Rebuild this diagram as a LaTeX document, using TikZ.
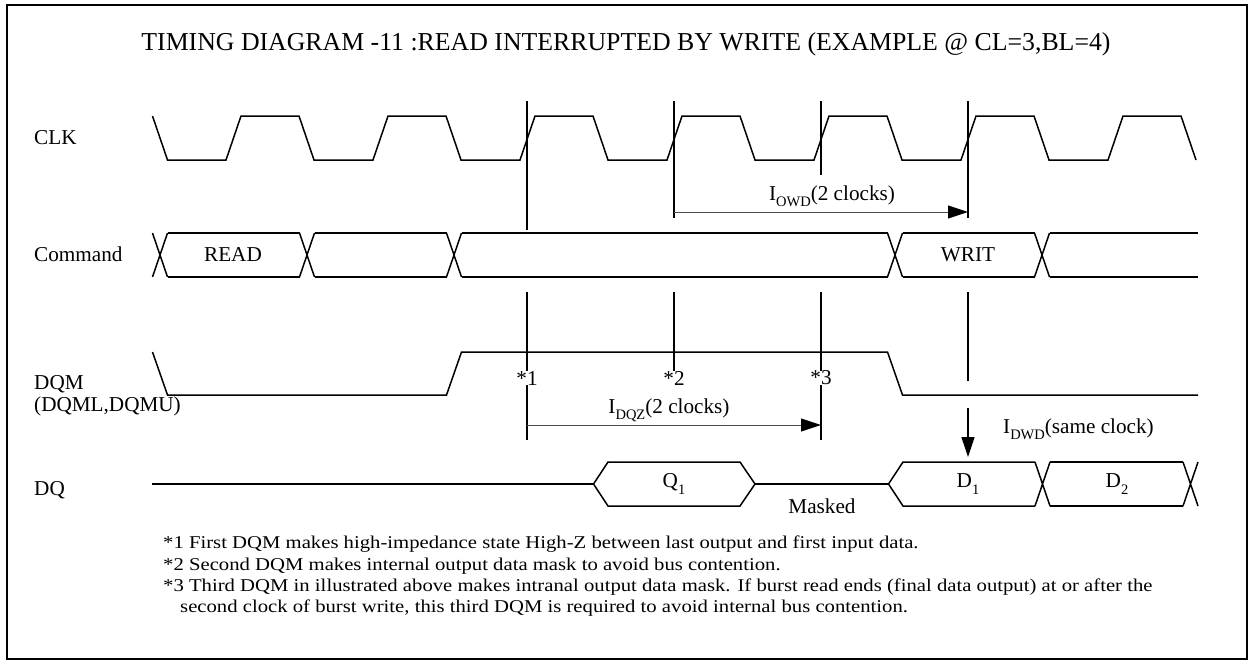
\documentclass[tikz,border=0pt]{standalone}
\usepackage{fontspec}
\setmainfont{Liberation Serif}
\newfontfamily\notefont[FakeStretch=1.15]{Liberation Serif}
\usetikzlibrary{arrows.meta}
\newcommand\subtxt[1]{\raisebox{-0.32em}{\fontsize{14.5}{14.5}\selectfont #1}}
\begin{document}
\begin{tikzpicture}[x=1pt,y=-1pt,
  wave/.style={line width=1.5pt, line join=miter},
  markline/.style={line width=1.4pt},
  dimarrow/.style={line width=0.9pt, draw=black!70, -{Triangle[length=20pt,width=13pt,color=black]}},
  lbl/.style={font=\fontsize{21.2}{21.2}\selectfont, inner sep=0pt},
  sig/.style={lbl, anchor=base west},
  note/.style={font=\notefont\fontsize{18}{18}\selectfont, inner sep=0pt, anchor=base west}]
\useasboundingbox (0,0) rectangle (1252,664);
\draw[line width=2pt] (7,5) rectangle (1247,659);

\node[font=\fontsize{25.8}{25.8}\selectfont, anchor=base, inner sep=0pt] (title) at (626,50)
  {TIMING DIAGRAM -11 :READ INTERRUPTED BY WRITE (EXAMPLE @ CL=3,BL=4)};

% signal names
\node[sig] (lclk) at (34,144) {CLK};
\node[sig] (lcmd) at (34,261) {Command};
\node[sig] (ldqm) at (34,389) {DQM};
\node[sig] (ldqm2) at (34,411) {(DQML,DQMU)};
\node[sig] (ldq) at (34,495) {DQ};

% CLK
\draw[wave] (152.5,116) -- (167.5,160)
  \foreach \r in {226,373,520,667,814,961,1108} { -- (\r,160) -- ({\r+15},116) -- ({\r+73},116) -- ({\r+88},160) };

% Command bus
\foreach \c in {160,307,454,895,1042}
  \draw[wave] ({\c-7.5},233) -- ({\c+7.5},277) ({\c-7.5},277) -- ({\c+7.5},233);
\foreach \a/\b in {167.5/299.5, 314.5/446.5, 461.5/887.5, 902.5/1034.5, 1049.5/1198}
  \draw[wave] (\a,233) -- (\b,233) (\a,277) -- (\b,277);
\node[lbl] (read) at (233,255) {READ};
\node[lbl] (writ) at (968,255) {WRIT};

% DQM
\draw[wave] (152.5,352) -- (167.5,395) -- (446.5,395) -- (461.5,352) -- (887.5,352) -- (902.5,395) -- (1198,395);

% DQ
\draw[wave] (152,484) -- (593.5,484);
\draw[wave] (593.5,484) -- (608,462) -- (740,462) -- (755,484) -- (740,506) -- (608,506) -- cycle;
\draw[wave] (755,484) -- (888.5,484);
\draw[wave] (1035,462) -- (903,462) -- (888.5,484) -- (903,506) -- (1035,506);
\draw[wave] (1035,462) -- (1050,506) (1035,506) -- (1050,462);
\draw[wave] (1050,462) -- (1183,462) (1050,506) -- (1183,506);
\draw[wave] (1183,462) -- (1198,506) (1183,506) -- (1198,462);
\node[lbl] (q1) at (674,484) {Q\subtxt{1}};
\node[lbl] (d1) at (968,484) {D\subtxt{1}};
\node[lbl] (d2) at (1117,484) {D\subtxt{2}};
\node[lbl] (masked) at (822,506) {Masked};

% vertical reference lines
\draw[markline] (527,101) -- (527,230);
\draw[markline] (674,101) -- (674,218);
\draw[markline] (821,101) -- (821,175);
\draw[markline] (968,101) -- (968,218);

\node[lbl] (s1) at (527,378) {*1};
\node[lbl] (s2) at (674,378) {*2};
\node[lbl] (s3) at (821,378) {*3};
\draw[markline] (527,292) -- (s1.north);
\draw[markline] (s1.south) -- (527,440);
\draw[markline] (674,292) -- (s2.north);
\draw[markline] (821,292) -- (s3.north);
\draw[markline] (s3.south) -- (821,440);
\draw[markline] (968,292) -- (968,381);

% timing arrows
\coordinate (owdA) at (674,212);
\coordinate (owdB) at (968,212);
\draw[dimarrow] (owdA) -- (owdB);
\node[lbl, anchor=base] (owd) at (832,200) {I\subtxt{OWD}(2 clocks)};

\coordinate (dqzA) at (527,425);
\coordinate (dqzB) at (821,425);
\draw[dimarrow] (dqzA) -- (dqzB);
\node[lbl, anchor=base] (dqz) at (669,413) {I\subtxt{DQZ}(2 clocks)};

\coordinate (dwdA) at (968,408);
\coordinate (dwdB) at (968,457);
\draw[line width=1.4pt, -{Triangle[length=20pt,width=13pt]}] (dwdA) -- (dwdB);
\node[lbl, anchor=base west] (dwd) at (1003,433) {I\subtxt{DWD}(same clock)};

% notes
\node[note] (n1) at (163,548) {*1 First DQM makes high-impedance state High-Z between last output and first input data.};
\node[note] (n2) at (163,570) {*2 Second DQM makes internal output data mask to avoid bus contention.};
\node[note] (n3) at (163,591.5) {*3 Third DQM in illustrated above makes intranal output data mask. If burst read ends (final data output) at or after the};
\node[note] (n4) at (180,612.5) {second clock of burst write, this third DQM is required to avoid internal bus contention.};
\end{tikzpicture}
\end{document}
